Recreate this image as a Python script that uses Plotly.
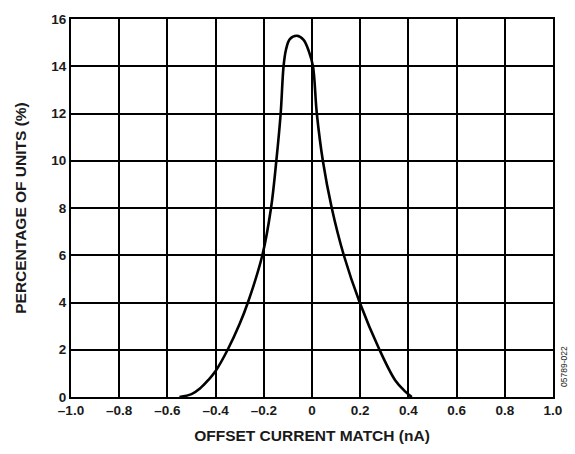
import plotly.graph_objects as go

# Data
offset_na = [-0.55, -0.50, -0.465, -0.43, -0.40, -0.35, -0.30, -0.266, -0.206, -0.170,
             -0.148, -0.130, -0.118, -0.108, -0.092, -0.063, -0.035, -0.012, 0.004, 0.020,
             0.045, 0.082, 0.132, 0.198, 0.280, 0.345, 0.385, 0.414]
pct_units = [0.0, 0.12, 0.36, 0.72, 1.1, 2.0, 3.1, 4.0, 6.0, 8.0,
             10.0, 12.0, 14.0, 14.7, 15.15, 15.29, 15.12, 14.6, 14.0, 12.0,
             10.0, 8.0, 6.0, 4.0, 2.0, 0.71, 0.25, 0.0]

x_tickvals = [-1.0, -0.8, -0.6, -0.4, -0.2, 0, 0.2, 0.4, 0.6, 0.8, 1.0]
x_ticklabels = ["–1.0", "–0.8", "–0.6", "–0.4", "–0.2", "0", "0.2", "0.4", "0.6", "0.8", "1.0"]
y_tickvals = [0, 2, 4, 6, 8, 10, 12, 14, 16]
y_ticklabels = ["0", "2", "4", "6", "8", "10", "12", "14", "16"]

fig = go.Figure()
fig.add_trace(go.Scatter(
    x=offset_na, y=pct_units, mode="lines",
    line=dict(color="black", width=2.6, shape="spline", smoothing=1.0),
    showlegend=False, hoverinfo="skip"))

font_fam = "Liberation Sans, Arial, sans-serif"
fig.update_layout(
    width=575, height=454,
    margin=dict(l=71, r=22, t=13, b=57),
    paper_bgcolor="white", plot_bgcolor="white",
    font=dict(family=font_fam, color="#1a1a1a"),
    xaxis=dict(range=[-1.0, 1.0], tickvals=x_tickvals,
               ticktext=["<b>%s</b>" % t for t in x_ticklabels],
               showgrid=True, gridcolor="black", gridwidth=1.5,
               showline=True, linecolor="black", linewidth=2, mirror=True,
               zeroline=False, ticks="", ticklen=0,
               tickfont=dict(size=13.5, family=font_fam),
               title=dict(text="<b>OFFSET CURRENT MATCH (nA)</b>", font=dict(size=15.5), standoff=13)),
    yaxis=dict(range=[0, 16], tickvals=y_tickvals,
               ticktext=["<b>%s</b>" % t for t in y_ticklabels],
               showgrid=True, gridcolor="black", gridwidth=1.5,
               showline=True, linecolor="black", linewidth=2, mirror=True,
               zeroline=False, ticks="", ticklen=0,
               tickfont=dict(size=13.5, family=font_fam),
               title=dict(text="<b>PERCENTAGE OF UNITS (%)</b>", font=dict(size=15.5), standoff=21)),
)

fig.add_annotation(text="05789-022", xref="paper", yref="paper", x=1.0, y=0.02,
                   xanchor="left", yanchor="bottom", xshift=4, textangle=-90,
                   showarrow=False, font=dict(size=8.5, family=font_fam, color="#1a1a1a"))

fig.write_html("out.html")
